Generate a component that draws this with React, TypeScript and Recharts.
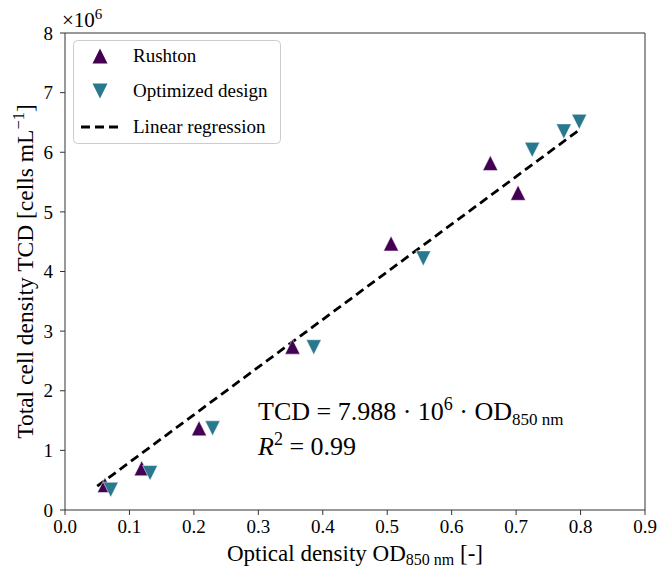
import React from "react";
import {
  ScatterChart,
  Scatter,
  XAxis,
  YAxis,
  ReferenceLine,
} from "recharts";

const rushtonOD = [0.062, 0.119, 0.208, 0.353, 0.506, 0.66, 0.703];
const rushtonTCD = [0.42, 0.7, 1.37, 2.74, 4.47, 5.82, 5.32];
const optimizedOD = [0.071, 0.132, 0.229, 0.386, 0.556, 0.725, 0.774, 0.798];
const optimizedTCD = [0.34, 0.62, 1.37, 2.73, 4.22, 6.04, 6.35, 6.51];
const regressionOD = [0.05, 0.8];
const regressionTCD = [0.3994, 6.3904];
const xTicks = [0, 0.1, 0.2, 0.3, 0.4, 0.5, 0.6, 0.7, 0.8, 0.9];
const yTicks = [0, 1, 2, 3, 4, 5, 6, 7, 8];

const PURPLE = "#440154";
const TEAL = "#2a788e";
const FONT = "'Liberation Serif', serif";
const AXIS = "#333";

const rushton = rushtonOD.map((x, i) => ({ x, y: rushtonTCD[i] }));
const optimized = optimizedOD.map((x, i) => ({ x, y: optimizedTCD[i] }));
const regression = regressionOD.map((x, i) => ({ x, y: regressionTCD[i] }));

const UpTri = (p: any) => {
  const { cx, cy } = p;
  const h = 7.5;
  return (
    <polygon
      points={`${cx},${cy - h} ${cx - h},${cy + h} ${cx + h},${cy + h}`}
      fill={PURPLE}
      stroke="#fff"
      strokeWidth={0.5}
    />
  );
};
const DownTri = (p: any) => {
  const { cx, cy } = p;
  const h = 7.5;
  return (
    <polygon
      points={`${cx},${cy + h} ${cx - h},${cy - h} ${cx + h},${cy - h}`}
      fill={TEAL}
      stroke="#fff"
      strokeWidth={0.5}
    />
  );
};

const XLabel = (props: any) => {
  const vb = props.viewBox || {};
  const cx = vb.x + vb.width / 2;
  return (
    <text x={cx} y={561} textAnchor="middle" fontFamily={FONT} fontSize={23} fill="#000">
      Optical density OD
      <tspan fontSize={16} dy={4}>850 nm</tspan>
      <tspan dy={-4}> [-]</tspan>
    </text>
  );
};

const YLabel = (props: any) => {
  const vb = props.viewBox || {};
  const cy = vb.y + vb.height / 2;
  const lx = 33;
  return (
    <text
      x={lx}
      y={cy}
      transform={`rotate(-90, ${lx}, ${cy})`}
      textAnchor="middle"
      fontFamily={FONT}
      fontSize={23.5}
      fill="#000"
    >
      Total cell density TCD [cells mL
      <tspan fontSize={16.5} dy={-9}>−1</tspan>
      <tspan dy={9}>]</tspan>
    </text>
  );
};

export default function App() {
  return (
    <div style={{ position: "absolute", left: 0, top: 0, width: 658, height: 568, background: "#fff" }}>
      <ScatterChart width={658} height={568} margin={{ top: 33, right: 13, bottom: 18, left: 5 }}>
        <XAxis
          type="number"
          dataKey="x"
          domain={[0, 0.9]}
          ticks={xTicks}
          tickFormatter={(v: number) => v.toFixed(1)}
          allowDataOverflow
          stroke={AXIS}
          tickSize={5}
          tickMargin={5}
          tick={{ fill: "#000", fontFamily: FONT, fontSize: 19 }}
          height={40}
          label={<XLabel />}
        />
        <YAxis
          type="number"
          dataKey="y"
          domain={[0, 8]}
          ticks={yTicks}
          allowDataOverflow
          stroke={AXIS}
          tickSize={5}
          tickMargin={7}
          tick={{ fill: "#000", fontFamily: FONT, fontSize: 19 }}
          width={60}
          label={<YLabel />}
        />
        <ReferenceLine y={8} stroke={AXIS} ifOverflow="visible" />
        <ReferenceLine x={0.9} stroke={AXIS} ifOverflow="visible" />
        <Scatter
          name="Linear regression"
          data={regression}
          line={{ stroke: "#000", strokeWidth: 2.8, strokeDasharray: "9 5" }}
          shape={() => null}
          isAnimationActive={false}
        />
        <Scatter name="Rushton" data={rushton} shape={UpTri} isAnimationActive={false} />
        <Scatter name="Optimized design" data={optimized} shape={DownTri} isAnimationActive={false} />
      </ScatterChart>
      <svg
        width={658}
        height={568}
        style={{ position: "absolute", left: 0, top: 0, pointerEvents: "none" }}
      >
        <text x={62} y={27} fontFamily={FONT} fontSize={21} fill="#000">
          ×10
          <tspan fontSize={15} dy={-8}>6</tspan>
        </text>
        <g transform="translate(73,40)">
          <rect x={0.5} y={0.5} width={207} height={103} rx={4} fill="#fff" fillOpacity={0.8} stroke="#ccc" />
          <polygon points="27,8.5 19.5,23.5 34.5,23.5" fill={PURPLE} />
          <text x={60} y={22} fontFamily={FONT} fontSize={19} fill="#000">Rushton</text>
          <polygon points="27,58.5 19.5,43.5 34.5,43.5" fill={TEAL} />
          <text x={60} y={57} fontFamily={FONT} fontSize={19} fill="#000">Optimized design</text>
          <line x1={8} y1={87} x2={46} y2={87} stroke="#000" strokeWidth={2.8} strokeDasharray="9 5" />
          <text x={60} y={93} fontFamily={FONT} fontSize={19} fill="#000">Linear regression</text>
        </g>
        <text x={258} y={420} fontFamily={FONT} fontSize={26} fill="#000">
          TCD = 7.988 · 10
          <tspan fontSize={18} dy={-10}>6</tspan>
          <tspan dy={10}> · OD</tspan>
          <tspan fontSize={17} dy={5}>850 nm</tspan>
        </text>
        <text x={258} y={455} fontFamily={FONT} fontSize={26} fill="#000">
          <tspan fontStyle="italic">R</tspan>
          <tspan fontSize={18} dy={-10}>2</tspan>
          <tspan dy={10}> = 0.99</tspan>
        </text>
      </svg>
    </div>
  );
}
